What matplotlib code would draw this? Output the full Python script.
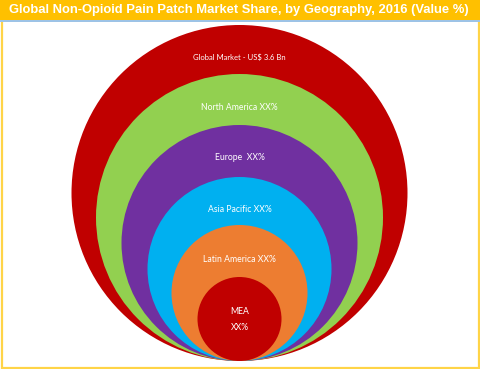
import matplotlib.pyplot as plt
from matplotlib.patches import Circle, Rectangle

TITLE = "Global Non-Opioid Pain Patch Market Share, by Geography, 2016 (Value %)"

# nested circles, outermost first (diameter in px, all resting on the same bottom)
regions = ["Global Market - US$ 3.6 Bn", "North America XX%", "Europe  XX%",
           "Asia Pacific XX%", "Latin America XX%", "MEA\nXX%"]
diameters = [336, 287, 236, 184, 136, 84]
colors = ["#C00000", "#92D050", "#7030A0", "#00B0F0", "#ED7D31", "#C00000"]
label_y = [57, 108, 158, 209, 260, 320]
label_size = [5.5, 6.2, 6.2, 6.2, 6.2, 6.2]

W, H = 480, 369
BOTTOM = 361
CX = 239.5

fig = plt.figure(figsize=(4.8, 3.69), dpi=100)
ax = fig.add_axes([0, 0, 1, 1])
ax.set_xlim(0, W)
ax.set_ylim(H, 0)
ax.axis("off")

# frame and title bar
ax.add_patch(Rectangle((0, 0), W, H, facecolor="white", edgecolor="none"))
ax.add_patch(Rectangle((1.5, 1), W - 3, H - 2.5, facecolor="none",
                       edgecolor="#FFD447", linewidth=1.6))
ax.add_patch(Rectangle((0, 0), W, 20, facecolor="#FFC000", edgecolor="none"))
ax.add_patch(Rectangle((0, 20), W, 2, facecolor="#9DC3E6", edgecolor="none"))
ax.text(W / 2 - 1.5, 10.5, TITLE, color="white", fontsize=9.35, fontweight="bold",
        family="Liberation Sans", ha="center", va="center")

for name, d, c, y, fs in zip(regions, diameters, colors, label_y, label_size):
    r = d / 2
    ax.add_patch(Circle((CX, BOTTOM - r), r, facecolor=c, edgecolor="none"))
    ax.text(CX, y, name, color="white", fontsize=fs, family="Lato",
            ha="center", va="center", linespacing=2.0)

fig.savefig("out.png", dpi=100)
